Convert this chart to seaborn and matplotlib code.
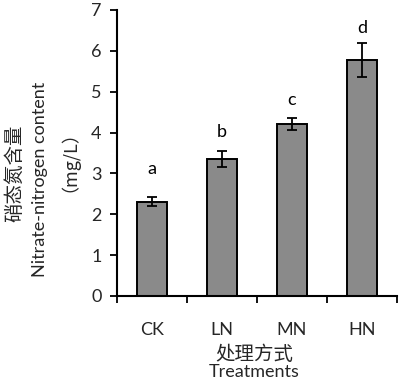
import matplotlib
matplotlib.use("Agg")
import matplotlib.pyplot as plt
import seaborn as sns
import pandas as pd
import numpy as np

categories = ["CK", "LN", "MN", "HN"]
values = [2.31, 3.35, 4.21, 5.78]
errors = [0.11, 0.20, 0.15, 0.41]
letters = ["a", "b", "c", "d"]
letter_pos = [3.1, 4.02, 4.8, 6.55]
yticks = [0, 1, 2, 3, 4, 5, 6, 7]

sns.set_theme(style="ticks")
plt.rcParams['font.family'] = ['Lato', 'Noto Sans CJK SC', 'DejaVu Sans']

FS = 13
fig = plt.figure(figsize=(4.02, 3.87), dpi=100)
ax = fig.add_axes([117/402, 1 - 296/387, 280/402, 286/387])

df = pd.DataFrame({"Treatment": categories, "Value": values})
sns.barplot(data=df, x="Treatment", y="Value", ax=ax, color="#8a8a8a",
            saturation=1, width=0.42, edgecolor="black", linewidth=1.4,
            errorbar=None)
xpos = np.arange(len(categories))
ax.errorbar(xpos, values, yerr=errors, fmt="none", ecolor="black",
            elinewidth=1.3, capsize=3.3, capthick=1.3)
for x, l, p in zip(xpos, letters, letter_pos):
    ax.text(x, p, l, ha="center", va="center", fontsize=FS, color="black")

ax.set_xlim(-0.5, len(categories) - 0.5)
ax.set_ylim(0, 7)
ax.set_yticks(yticks)
ax.set_yticklabels([str(t) for t in yticks], fontsize=FS)
ax.set_xticks(xpos)
ax.set_xticklabels(categories, fontsize=FS)
ax.tick_params(axis="x", length=0, pad=19)
ax.set_xticks(np.arange(-0.5, len(categories)), minor=True)
ax.tick_params(axis="x", which="minor", length=5, width=1.3, direction="out", color="black")
ax.tick_params(axis="y", length=5, width=1.3, direction="out", color="black", pad=6)
for s in ["top", "right"]:
    ax.spines[s].set_visible(False)
for s in ["left", "bottom"]:
    ax.spines[s].set_linewidth(1.5)
    ax.spines[s].set_color("black")
ax.set_xlabel("")
ax.set_ylabel("")

fig.text(15/402, 1 - 173/387, "硝态氮含量", rotation=90, ha="center", va="center",
         fontsize=14, family=['Noto Sans CJK SC'])
fig.text(40/402, 1 - 179/387, "Nitrate-nitrogen content", rotation=90, ha="center", va="center", fontsize=FS)
fig.text(60/402, 1 - 152/387, "（mg/L）", rotation=90, ha="center", va="center",
         fontsize=FS, family=['Noto Sans CJK SC'])
fig.text(254/402, 1 - 355/387, "处理方式", ha="center", va="center", fontsize=14,
         family=['Noto Sans CJK SC'])
fig.text(254/402, 1 - 372/387, "Treatments", ha="center", va="center", fontsize=FS)

fig.savefig("out.png", dpi=100)
